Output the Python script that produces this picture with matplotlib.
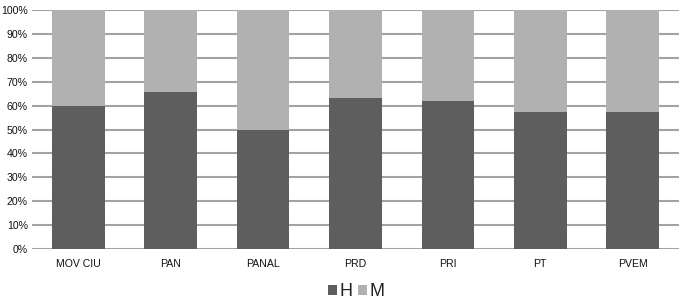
import matplotlib
matplotlib.use("Agg")
import matplotlib.pyplot as plt
from matplotlib.ticker import PercentFormatter

plt.rcParams['font.family'] = ['Liberation Sans', 'DejaVu Sans']

partidos = ["MOV CIU", "PAN", "PANAL", "PRD", "PRI", "PT", "PVEM"]
hombres = [60, 65.5, 50, 63.3, 62, 57.2, 57.2]
mujeres = [100 - h for h in hombres]

fig = plt.figure(figsize=(6.81, 3.03), dpi=100)
ax = fig.add_axes([0.047, 0.178, 0.950, 0.789])

x = range(len(partidos))
ax.bar(x, hombres, width=0.57, color="#5e5e5e", label="H", zorder=3)
ax.bar(x, mujeres, width=0.57, bottom=hombres, color="#b1b1b1", label="M", zorder=3)

ax.set_ylim(0, 100)
ax.set_xlim(-0.5, len(partidos) - 0.5)
ax.set_yticks(range(0, 101, 10))
ax.yaxis.set_major_formatter(PercentFormatter(decimals=0))
ax.set_xticks(list(x))
ax.set_xticklabels(partidos)
ax.tick_params(axis="both", length=0, labelsize=7.6, colors="#111111")
ax.tick_params(axis="x", pad=7)
ax.tick_params(axis="y", pad=3)
ax.grid(axis="y", color="#a3a3a3", linewidth=1.5, zorder=0)
for s in ax.spines.values():
    s.set_visible(False)

fig.legend(loc="lower center", bbox_to_anchor=(0.523, -0.045), ncol=2, frameon=False,
           fontsize=13, handlelength=0.5, handleheight=0.5, handletextpad=0.15,
           columnspacing=0.3, labelcolor="#222222")

fig.savefig("out.png", dpi=100)
